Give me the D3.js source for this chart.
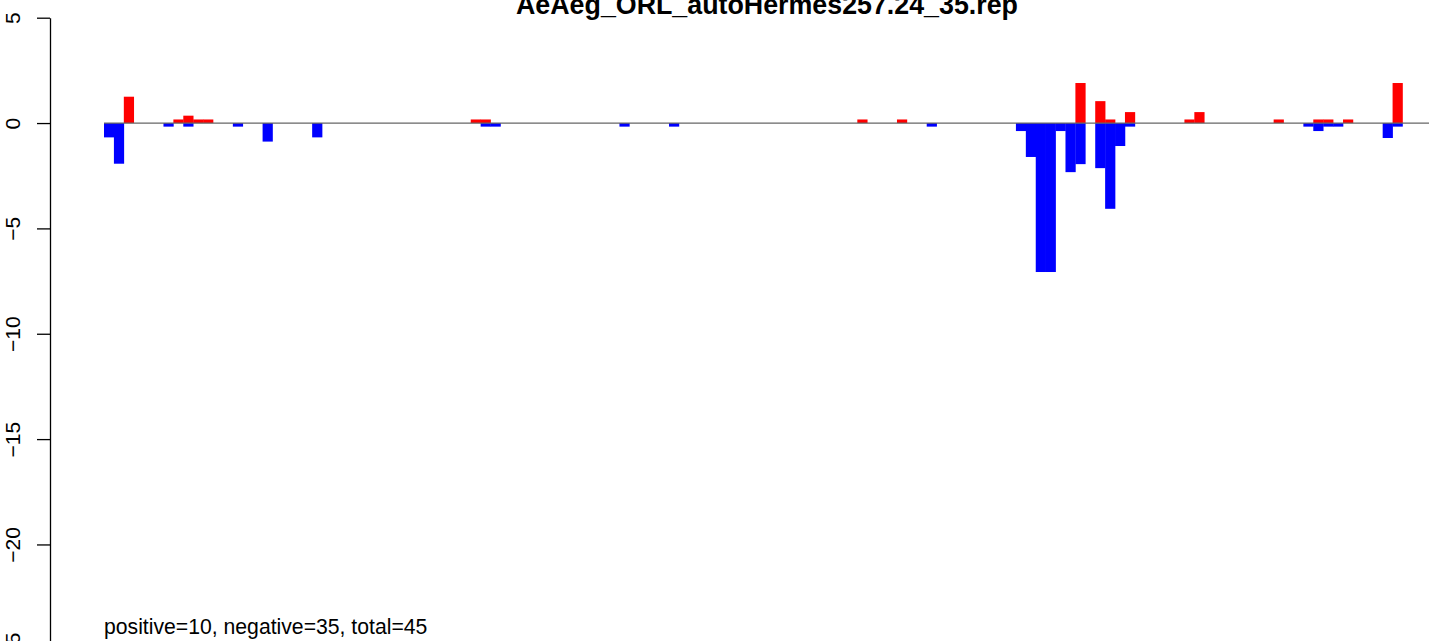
<!DOCTYPE html>
<html lang="en">
<head>
    <meta charset="UTF-8">
    <title>AeAeg_ORL_autoHermes257.24_35.rep</title>
    <script src="https://d3js.org/d3.v7.min.js"></script>
    <style>
        body { margin: 0; background-color: white; }
        svg { display: block; }
        .axis path, .axis line { fill: none; stroke: #000; stroke-width: 1.3px; }
        .axis text { font-family: 'Liberation Sans', Arial, sans-serif; font-size: 21px; fill: #000; }
    </style>
</head>
<body>
    <svg id="chart" width="1429" height="641"></svg>
    <script>
        // bins along the sequence, positive (red) and negative (blue) scores
        const nBins = 131;
        const posBins = [2, 7, 8, 9, 10, 37, 38, 76, 80, 98, 100, 101, 103, 109, 110, 118, 122, 123, 125, 130];
        const posVals = [1.25, 0.17, 0.35, 0.17, 0.17, 0.17, 0.17, 0.17, 0.17, 1.90, 1.04, 0.17, 0.52, 0.17, 0.52, 0.17, 0.17, 0.17, 0.17, 1.90];
        const negBins = [0, 1, 6, 8, 13, 16, 21, 38, 39, 52, 57, 83, 92, 93, 94, 95, 96, 97, 98, 100, 101, 102, 103, 121, 122, 123, 124, 129, 130];
        const negVals = [-0.68, -1.93, -0.17, -0.17, -0.17, -0.88, -0.68, -0.17, -0.17, -0.17, -0.17, -0.17, -0.38, -1.61, -7.07, -7.07, -0.38, -2.33, -1.95, -2.14, -4.07, -1.09, -0.17, -0.17, -0.38, -0.17, -0.17, -0.71, -0.17];
        const yTicks = [5, 0, -5, -10, -15, -20, -25];
        const title = "AeAeg_ORL_autoHermes257.24_35.rep";
        const summary = "positive=10, negative=35, total=45";

        const width = 1429;
        const axisX = 50;

        const svg = d3.select("#chart");

        const x = d3.scaleBand()
            .domain(d3.range(nBins))
            .range([104, 1402.5])
            .padding(0);

        const y = d3.scaleLinear()
            .domain([-25, 5])
            .range([649.8, 17.7]);

        const pos = posBins.map((b, i) => ({ bin: b, value: posVals[i] }));
        const neg = negBins.map((b, i) => ({ bin: b, value: negVals[i] }));

        svg.append("g").selectAll("rect")
            .data(pos)
            .enter().append("rect")
            .attr("x", d => x(d.bin))
            .attr("width", x.bandwidth() + 0.3)
            .attr("y", d => y(d.value))
            .attr("height", d => y(0) - y(d.value))
            .attr("fill", "#ff0000");

        svg.append("g").selectAll("rect")
            .data(neg)
            .enter().append("rect")
            .attr("x", d => x(d.bin))
            .attr("width", x.bandwidth() + 0.3)
            .attr("y", y(0))
            .attr("height", d => y(d.value) - y(0))
            .attr("fill", "#0000ff");

        // zero line
        svg.append("line")
            .attr("x1", x(0))
            .attr("x2", width)
            .attr("y1", y(0))
            .attr("y2", y(0))
            .attr("stroke", "#666666")
            .attr("stroke-width", 1.3);

        const yAxis = svg.append("g")
            .attr("class", "axis")
            .attr("transform", `translate(${axisX},0)`)
            .call(d3.axisLeft(y).tickValues(yTicks).tickSize(13).tickSizeOuter(0)
                .tickFormat(d => d < 0 ? "\u2212" + Math.abs(d) : d));

        yAxis.selectAll("text")
            .attr("transform", "rotate(-90)")
            .attr("x", 0)
            .attr("y", -30)
            .attr("dy", 0)
            .attr("text-anchor", "middle");

        svg.append("text")
            .attr("x", 767)
            .attr("y", 14)
            .attr("text-anchor", "middle")
            .style("font-family", "'Liberation Sans', Arial, sans-serif")
            .style("font-size", "26.8px")
            .style("font-weight", "bold")
            .text(title);

        svg.append("text")
            .attr("x", 104)
            .attr("y", 634)
            .style("font-family", "'Liberation Sans', Arial, sans-serif")
            .style("font-size", "21.2px")
            .text(summary);
    </script>
</body>
</html>
